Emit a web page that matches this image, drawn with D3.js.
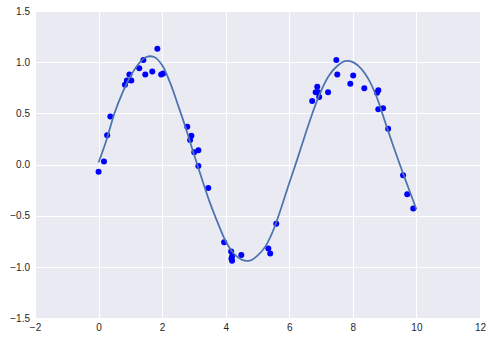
<!DOCTYPE html>
<html>
<head>
<meta charset="utf-8">
<script src="https://cdn.jsdelivr.net/npm/d3@7"></script>
<style>
  body { margin: 0; background: #fff; }
  text { font-family: "Liberation Sans", Arial, sans-serif; font-size: 10px; fill: #262626; }
</style>
</head>
<body>
<div id="chart"></div>
<script>
// scatter samples
var pointX = [0.00, 0.17, 0.27, 0.37, 0.83, 0.89, 0.97, 1.03, 1.28, 1.41, 1.47, 1.69, 1.85, 1.97, 2.03,
              2.79, 2.88, 2.92, 3.01, 3.14, 3.14, 3.45, 3.95, 4.17, 4.18, 4.20, 4.20, 4.49, 5.34, 5.40, 5.59,
              6.72, 6.83, 6.88, 6.91, 6.94, 7.22, 7.48, 7.51, 7.92, 8.01, 8.36, 8.76, 8.80, 8.80, 8.95, 9.11,
              9.58, 9.71, 9.90];
var pointY = [-0.07, 0.03, 0.285, 0.47, 0.78, 0.82, 0.88, 0.82, 0.94, 1.02, 0.88, 0.91, 1.13, 0.88, 0.89,
              0.37, 0.24, 0.28, 0.12, 0.14, -0.015, -0.23, -0.76, -0.85, -0.92, -0.90, -0.94, -0.885, -0.82, -0.87, -0.58,
              0.62, 0.705, 0.76, 0.705, 0.66, 0.705, 1.02, 0.88, 0.79, 0.87, 0.745, 0.70, 0.725, 0.54, 0.55, 0.35,
              -0.106, -0.29, -0.43];

// fitted curve
var fitX = [0, 0.25, 0.5, 0.75, 1, 1.25, 1.5, 1.75, 2, 2.25, 2.5, 2.75, 3, 3.25, 3.5, 3.75, 4, 4.25, 4.5, 4.75,
            5, 5.25, 5.5, 5.75, 6, 6.25, 6.5, 6.75, 7, 7.25, 7.5, 7.75, 8, 8.25, 8.5, 8.75, 9, 9.25, 9.5, 9.75, 10];
var fitY = [0.02, 0.24, 0.50, 0.70, 0.86, 0.98, 1.05, 1.05, 0.97, 0.80, 0.58, 0.35, 0.10, -0.14, -0.37, -0.57, -0.75, -0.87, -0.93, -0.94,
            -0.89, -0.80, -0.64, -0.42, -0.18, 0.05, 0.29, 0.52, 0.72, 0.87, 0.96, 1.01, 1.00, 0.94, 0.83, 0.66, 0.43, 0.20, -0.02, -0.23, -0.44];

var xTicks = [-2, 0, 2, 4, 6, 8, 10, 12];
var yTicks = [-1.5, -1.0, -0.5, 0.0, 0.5, 1.0, 1.5];

var width = 493, height = 341;
var margin = {top: 11, right: 13, bottom: 23, left: 35};

var svg = d3.select("#chart").append("svg")
    .attr("width", width)
    .attr("height", height);

var x = d3.scaleLinear().domain([-2, 12]).range([margin.left, width - margin.right]);
var y = d3.scaleLinear().domain([-1.5, 1.5]).range([height - margin.bottom, margin.top]);

//background panel
svg.append("rect")
    .attr("x", margin.left)
    .attr("y", margin.top)
    .attr("width", x(12) - x(-2))
    .attr("height", y(-1.5) - y(1.5))
    .attr("fill", "#EAEAF2");

//grid lines
var grid = svg.append("g");
grid.selectAll(".vx").data(xTicks).enter().append("line")
    .attr("x1", d => Math.round(x(d)) + 0.5).attr("x2", d => Math.round(x(d)) + 0.5)
    .attr("y1", y(1.5)).attr("y2", y(-1.5))
    .attr("stroke", "#fff").attr("stroke-width", 1);
grid.selectAll(".hy").data(yTicks).enter().append("line")
    .attr("y1", d => Math.round(y(d)) + 0.5).attr("y2", d => Math.round(y(d)) + 0.5)
    .attr("x1", x(-2)).attr("x2", x(12))
    .attr("stroke", "#fff").attr("stroke-width", 1);

//axes (labels only, no spines)
var xAxis = svg.append("g")
    .attr("transform", "translate(0," + (height - margin.bottom) + ")")
    .call(d3.axisBottom(x).tickValues(xTicks).tickSize(0).tickPadding(6)
        .tickFormat(d => d3.format("d")(d).replace("-", "\u2212")));
var yAxis = svg.append("g")
    .attr("transform", "translate(" + margin.left + ",0)")
    .call(d3.axisLeft(y).tickValues(yTicks).tickSize(0).tickPadding(5)
        .tickFormat(d => d3.format(".1f")(d).replace("-", "\u2212")));
svg.selectAll(".domain").remove();
svg.selectAll(".tick text").attr("fill", "#262626").style("font-size", "10px")
    .style("font-family", "Liberation Sans, Arial, sans-serif");

//points
svg.append("g").selectAll("circle")
    .data(pointX.map((d, i) => [d, pointY[i]]))
    .enter().append("circle")
    .attr("cx", d => x(d[0]))
    .attr("cy", d => y(d[1]))
    .attr("r", 3)
    .attr("fill", "#0000ff");

//fit line
var line = d3.line()
    .x(d => x(d[0]))
    .y(d => y(d[1]))
    .curve(d3.curveCatmullRom);

svg.append("path")
    .datum(fitX.map((d, i) => [d, fitY[i]]))
    .attr("d", line)
    .attr("fill", "none")
    .attr("stroke", "#4C72B0")
    .attr("stroke-width", 1.75);
</script>
</body>
</html>
